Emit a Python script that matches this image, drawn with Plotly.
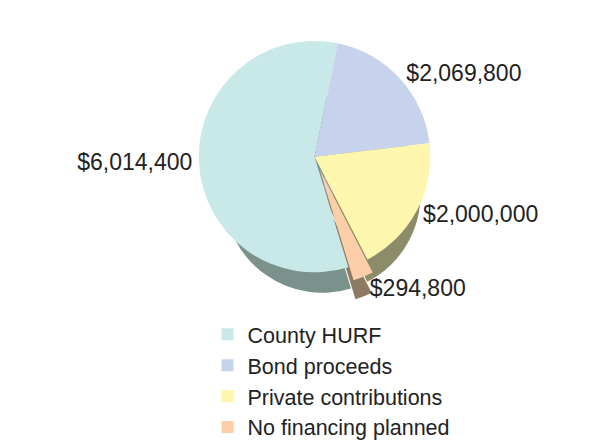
import plotly.graph_objects as go

labels = ["County HURF", "Bond proceeds", "Private contributions", "No financing planned"]
values = [6014400, 2069800, 2000000, 294800]
colors = ["#C9E8E8", "#C7D3EC", "#FFF6AE", "#FCCFA8"]
side_colors = ["#7A918C", "#8E96A8", "#8C8C6A", "#8E7A62"]
pulls = [0, 0, 0, 0.12]

fig = go.Figure()
common = dict(labels=labels, values=values, sort=False, direction="clockwise",
              rotation=163, pull=pulls)
# depth layer (simulated side of 3-D pie)
fig.add_trace(go.Pie(
    **common,
    marker=dict(colors=side_colors, line=dict(width=0)),
    textinfo="none", showlegend=False, hoverinfo="skip",
    domain=dict(x=[0.125, 0.925], y=[0.347, 0.865]),
))
fig.add_trace(go.Pie(
    **common,
    marker=dict(colors=colors, line=dict(width=0)),
    texttemplate="$%{value:,}", textposition="outside",
    textfont=dict(size=23, color="#222222", family="Liberation Sans, Arial, sans-serif"),
    domain=dict(x=[0.02, 0.98], y=[0.39, 1.0]),
))

fig.update_layout(
    width=600, height=444,
    paper_bgcolor="white", plot_bgcolor="white",
    margin=dict(l=0, r=0, t=0, b=0),
    font=dict(family="Liberation Sans, Arial, sans-serif", color="#222222"),
    legend=dict(orientation="v", x=0.156, xanchor="left", y=0.01, yanchor="bottom",
                font=dict(size=21.5), traceorder="normal", tracegroupgap=0),
)
fig.write_html("out.html")
